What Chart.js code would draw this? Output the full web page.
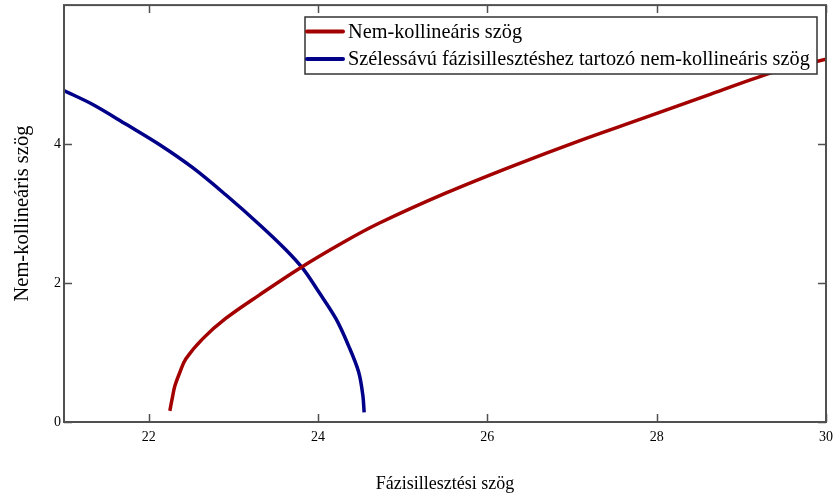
<!DOCTYPE html>
<html>
<head>
<meta charset="utf-8">
<script src="https://cdn.jsdelivr.net/npm/chart.js@4/dist/chart.umd.min.js"></script>
<style>
  html, body { margin: 0; padding: 0; background: #fff; }
  #wrap { width: 840px; height: 493px; }
</style>
</head>
<body>
<div id="wrap"><canvas id="c"></canvas></div>
<script>
// Non-collinear angle vs. phase-matching angle
const redLabel = 'Nem-kollineáris szög';
const redX = [22.25, 22.28, 22.31, 22.37, 22.44, 22.64, 22.91, 23.31, 23.78, 24.29, 24.72, 25.50, 26.29, 27.07, 27.86, 28.64, 29.42, 30.00];
const redY = [0.16, 0.35, 0.52, 0.72, 0.91, 1.20, 1.49, 1.83, 2.21, 2.58, 2.86, 3.29, 3.68, 4.04, 4.38, 4.72, 5.05, 5.22];

const blueLabel = 'Szélessávú fázisillesztéshez tartozó nem-kollineáris szög';
const blueX = [21.00, 21.34, 21.74, 22.13, 22.52, 22.91, 23.31, 23.62, 23.82, 24.01, 24.21, 24.36, 24.48, 24.53, 24.545];
const blueY = [4.77, 4.57, 4.28, 3.99, 3.66, 3.27, 2.84, 2.48, 2.21, 1.87, 1.49, 1.10, 0.72, 0.38, 0.14];

const xTicks = [22, 24, 26, 28, 30];
const yTicks = [0, 2, 4];

const toPoints = (xs, ys) => xs.map((x, i) => ({ x: x, y: ys[i] }));

const SERIF = '"Liberation Serif", "Times New Roman", serif';
const FRAME = '#505050';

// Box frame with inward tick marks on all four sides
const framePlugin = {
  id: 'frame',
  afterDatasetsDraw(chart) {
    const { ctx, chartArea: a, scales: { x, y } } = chart;
    ctx.save();
    ctx.strokeStyle = FRAME;
    ctx.lineWidth = 1.5;
    const tl = 8;
    ctx.beginPath();
    xTicks.forEach(v => {
      const px = Math.round(x.getPixelForValue(v)) + 0.5;
      ctx.moveTo(px, a.bottom); ctx.lineTo(px, a.bottom - tl);
      ctx.moveTo(px, a.top); ctx.lineTo(px, a.top + tl);
    });
    yTicks.forEach(v => {
      const py = Math.round(y.getPixelForValue(v)) + 0.5;
      ctx.moveTo(a.left, py); ctx.lineTo(a.left + tl, py);
      ctx.moveTo(a.right, py); ctx.lineTo(a.right - tl, py);
    });
    ctx.stroke();
    ctx.lineWidth = 2;
    ctx.strokeRect(a.left, a.top, a.right - a.left, a.bottom - a.top);
    ctx.restore();
  }
};

// Boxed legend in the upper right of the plot area
const boxLegend = {
  id: 'boxLegend',
  afterDraw(chart) {
    const { ctx } = chart;
    const box = { left: 305, top: 17, right: 817, bottom: 74 };
    ctx.save();
    ctx.fillStyle = '#fff';
    ctx.fillRect(box.left, box.top, box.right - box.left, box.bottom - box.top);
    ctx.strokeStyle = '#333';
    ctx.lineWidth = 1.5;
    ctx.strokeRect(box.left, box.top, box.right - box.left, box.bottom - box.top);
    const rows = [31.5, 59];
    ctx.font = '20.3px ' + SERIF;
    ctx.textBaseline = 'middle';
    chart.data.datasets.forEach((ds, i) => {
      const ry = rows[i];
      ctx.strokeStyle = ds.borderColor;
      ctx.lineWidth = 4;
      ctx.lineCap = 'round';
      ctx.beginPath();
      ctx.moveTo(307, ry); ctx.lineTo(343, ry);
      ctx.stroke();
      ctx.fillStyle = '#000';
      ctx.fillText(ds.label, 348, ry + 1);
    });
    ctx.restore();
  }
};

new Chart(document.getElementById('c'), {
  type: 'scatter',
  data: {
    datasets: [
      {
        label: redLabel,
        data: toPoints(redX, redY),
        showLine: true,
        borderColor: '#a30000',
        borderWidth: 3.5,
        pointRadius: 0,
        tension: 0.35,
        fill: false
      },
      {
        label: blueLabel,
        data: toPoints(blueX, blueY),
        showLine: true,
        borderColor: '#000088',
        borderWidth: 3.5,
        pointRadius: 0,
        tension: 0.35,
        fill: false
      }
    ]
  },
  options: {
    responsive: true,
    maintainAspectRatio: false,
    animation: false,
    layout: { padding: { left: 0, right: 11, top: 5, bottom: 0 } },
    plugins: {
      legend: { display: false },
      tooltip: { enabled: false }
    },
    scales: {
      x: {
        type: 'linear',
        min: 21,
        max: 30,
        afterBuildTicks: s => { s.ticks = xTicks.map(v => ({ value: v })); },
        afterFit: s => { s.height = 71; },
        grid: { display: false, drawTicks: false },
        border: { display: false },
        ticks: {
          color: '#000',
          padding: 7,
          maxRotation: 0,
          font: { family: SERIF, size: 14 }
        },
        title: {
          display: true,
          text: 'Fázisillesztési szög',
          color: '#000',
          padding: { top: 0, bottom: -2 },
          font: { family: SERIF, size: 18 }
        }
      },
      y: {
        type: 'linear',
        min: 0,
        max: 6,
        afterBuildTicks: s => { s.ticks = yTicks.map(v => ({ value: v })); },
        afterFit: s => { s.width = 64; },
        grid: { display: false, drawTicks: false },
        border: { display: false },
        ticks: {
          color: '#000',
          padding: 3,
          font: { family: SERIF, size: 14, lineHeight: 0.3 }
        },
        title: {
          display: true,
          text: 'Nem-kollineáris szög',
          color: '#000',
          padding: { top: 10, bottom: 0 },
          font: { family: SERIF, size: 20.5 }
        }
      }
    }
  },
  plugins: [framePlugin, boxLegend]
});
</script>
</body>
</html>
